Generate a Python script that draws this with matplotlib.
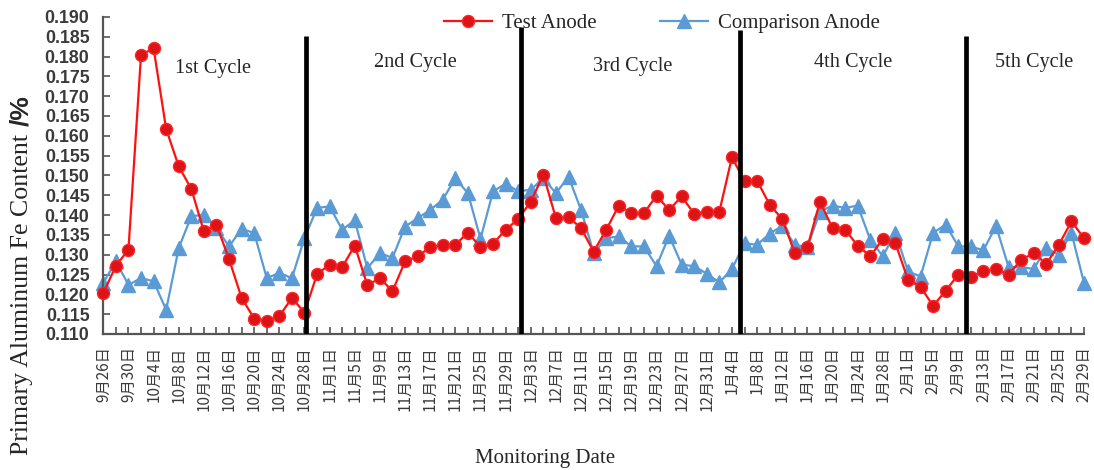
import matplotlib
matplotlib.use("Agg")
import matplotlib.pyplot as plt

# Fe content (%) of primary aluminium, sampled every two days from 9月26日 to 2月29日
test_anode = [
    0.1203, 0.1272, 0.1313, 0.1804, 0.1821, 0.1617, 0.1523, 0.1466, 0.1359, 0.1376,
    0.1289, 0.1191, 0.1139, 0.1134, 0.1145, 0.1191, 0.1154, 0.1251, 0.1275, 0.1269,
    0.1323, 0.1223, 0.1241, 0.1208, 0.1283, 0.1296, 0.1319, 0.1325, 0.1325, 0.1356,
    0.1319, 0.1328, 0.1363, 0.1390, 0.1434, 0.1502, 0.1392, 0.1395, 0.1367, 0.1308,
    0.1363, 0.1424, 0.1405, 0.1405, 0.1449, 0.1413, 0.1447, 0.1403, 0.1409, 0.1409,
    0.1546, 0.1485, 0.1487, 0.1426, 0.1390, 0.1304, 0.1319, 0.1434, 0.1367, 0.1363,
    0.1323, 0.1296, 0.1340, 0.1329, 0.1237, 0.1219, 0.1171, 0.1209, 0.1250, 0.1245,
    0.1258, 0.1264, 0.1250, 0.1287, 0.1304, 0.1277, 0.1325, 0.1384, 0.1342,
]
comparison_anode = [
    0.1229, 0.1283, 0.1224, 0.1241, 0.1233, 0.1161, 0.1317, 0.1397, 0.1401, 0.1367,
    0.1321, 0.1365, 0.1355, 0.1241, 0.1254, 0.1241, 0.1342, 0.1418, 0.1422, 0.1363,
    0.1387, 0.1266, 0.1304, 0.1292, 0.1371, 0.1392, 0.1413, 0.1439, 0.1493, 0.1455,
    0.1340, 0.1460, 0.1479, 0.1460, 0.1464, 0.1493, 0.1455, 0.1497, 0.1413, 0.1304,
    0.1342, 0.1346, 0.1321, 0.1321, 0.1271, 0.1348, 0.1275, 0.1271, 0.1252, 0.1230,
    0.1264, 0.1329, 0.1325, 0.1353, 0.1373, 0.1325, 0.1319, 0.1409, 0.1424, 0.1418,
    0.1424, 0.1338, 0.1296, 0.1356, 0.1258, 0.1245, 0.1355, 0.1376, 0.1321, 0.1321,
    0.1311, 0.1373, 0.1269, 0.1269, 0.1264, 0.1317, 0.1300, 0.1355, 0.1229,
]

# every other sampling date carries a label
date_labels = [
    "9月26日", "9月30日", "10月4日", "10月8日", "10月12日", "10月16日", "10月20日",
    "10月24日", "10月28日", "11月1日", "11月5日", "11月9日", "11月13日", "11月17日",
    "11月21日", "11月25日", "11月29日", "12月3日", "12月7日", "12月11日", "12月15日",
    "12月19日", "12月23日", "12月27日", "12月31日", "1月4日", "1月8日", "1月12日",
    "1月16日", "1月20日", "1月24日", "1月28日", "2月1日", "2月5日", "2月9日",
    "2月13日", "2月17日", "2月21日", "2月25日", "2月29日",
]

cycle_names = ["1st Cycle", "2nd Cycle", "3rd Cycle", "4th Cycle", "5th Cycle"]
cycle_label_x = [8.75, 24.8, 42.1, 59.6, 74.0]
cycle_label_y = [0.1769, 0.1784, 0.1774, 0.1786, 0.1786]
cycle_bounds = [16.15, 33.25, 50.65, 68.65]
cycle_bound_tops = [0.1852, 0.1875, 0.1868, 0.1852]

y_ticks = [0.110 + 0.005 * k for k in range(17)]

RED = "#FF1010"
BLUE = "#5B9BD5"
TEXT = "#3a3a3a"
SERIF = "Liberation Serif"

fig = plt.figure(figsize=(10.94, 4.70), dpi=100)
ax = fig.add_axes([103.3 / 1094, 136 / 470, (1084 - 103.3) / 1094, (453.1 - 136) / 470])

x = list(range(len(test_anode)))
ax.plot(x, test_anode, color=RED, lw=1.6, marker="o", markersize=8.6,
        markerfacecolor="#DC1418", markeredgecolor="#FF2222", markeredgewidth=1.0,
        label="Test Anode", clip_on=False, zorder=3)
ax.plot(x, comparison_anode, color=BLUE, lw=1.6, marker="^", markersize=9.5,
        markerfacecolor=BLUE, markeredgecolor=BLUE,
        label="Comparison Anode", clip_on=False, zorder=2)

ax.vlines(cycle_bounds, 0.110, cycle_bound_tops, colors="black", lw=3.4, zorder=4)
for name, cx, cy in zip(cycle_names, cycle_label_x, cycle_label_y):
    ax.text(cx, cy, name, ha="center", va="center", family=SERIF,
            fontsize=14.6, color="#262626")

ax.set_xlim(0, len(x) - 1)
ax.set_ylim(0.110, 0.190)
ax.set_yticks(y_ticks)
ax.set_yticklabels([f"{v:.3f}" for v in y_ticks], fontsize=12.8,
                   fontweight="bold", family="Liberation Sans", color=TEXT)

tick_text = []
for i in x:
    tick_text.append(date_labels[i // 2] if i % 2 == 0 else "")
ax.set_xticks(x)
ax.set_xticklabels(tick_text, rotation=90, fontsize=11,
                   family=["Noto Sans CJK SC", "DejaVu Sans"], color=TEXT)

ax.tick_params(axis="x", direction="in", length=5, width=1.2, color="#555555", pad=9)
ax.tick_params(axis="y", direction="in", length=5, width=1.2, color="#555555", pad=10)

for side in ("top", "right"):
    ax.spines[side].set_visible(False)
for side in ("left", "bottom"):
    ax.spines[side].set_color("#555555")
    ax.spines[side].set_linewidth(1.6)

ax.set_xlabel("Monitoring Date", family=SERIF, fontsize=15, color="#262626")
ax.xaxis.set_label_coords((545 - 103.3) / (1084 - 103.3), -(458 - 334) / 317.1)
ax.xaxis.label.set_va("center")

fig.text(22 / 1094, 1 - 134 / 470, "Primary Aluminum Fe Content", rotation=90,
         ha="center", va="top", family=SERIF, fontsize=18.6, color="#262626")
fig.text(21 / 1094, 1 - 126 / 470, "/%", rotation=90, ha="center", va="bottom",
         family="Liberation Sans", fontweight="bold", fontsize=19, color="#262626")

leg = fig.legend(loc="center", bbox_to_anchor=(662 / 1094, 1 - 23 / 470), ncol=2,
                 frameon=False, prop={"family": SERIF, "size": 15},
                 handlelength=2.3, handletextpad=0.5, columnspacing=3.0)
for t in leg.get_texts():
    t.set_color("#262626")

fig.savefig("out.png", dpi=100, facecolor="white")
